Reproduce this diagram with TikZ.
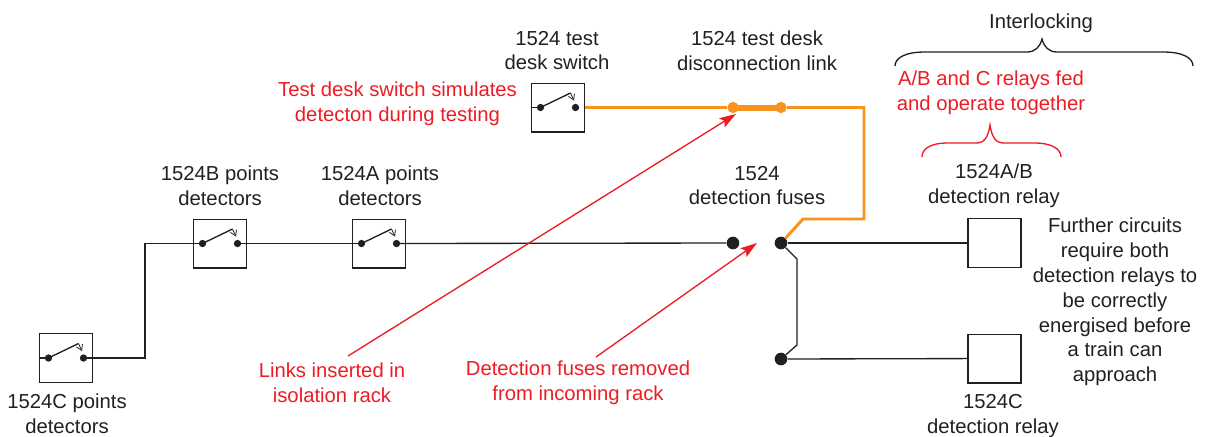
\documentclass[tikz,border=0pt]{standalone}
\usepackage{fontspec}
\setmainfont{Liberation Sans}
\usetikzlibrary{arrows.meta}
\definecolor{ink}{HTML}{231F20}
\definecolor{feedcol}{HTML}{F7941D}
\definecolor{notecol}{HTML}{ED1C24}
\tikzset{>/.tip={Stealth[length=12.5pt,width=8pt,inset=2.5pt]},
  lbl/.style={inner sep=0pt,align=center,text=ink,font=\fontsize{15.2}{18.6}\selectfont},
  note/.style={lbl,text=notecol},
  box/.style={draw=ink,line width=1pt,fill=white,minimum width=39.75pt,minimum height=36.5pt,inner sep=0pt},
  smalldot/.style={circle,fill=ink,inner sep=0pt,minimum size=5.5pt},
  bigdot/.style={circle,fill=ink,inner sep=0pt,minimum size=9.5pt},
  linkdot/.style={circle,fill=feedcol,inner sep=0pt,minimum size=8.5pt},
  wire/.style={draw=ink,line width=1pt},
  feed/.style={draw=feedcol,line width=2.2pt},
  linkbar/.style={draw=feedcol,line width=4.5pt},
  pointer/.style={draw=notecol,line width=1pt,->}}

\begin{document}
\begin{tikzpicture}[x=0.75pt,y=-0.75pt]
\useasboundingbox (0,0) rectangle (1206,436);

\foreach \n/\cx/\cy in {swC/66/358,swB/220/243.5,swA/379/243.5,swT/558/107.5}
{
  \node[box] (\n) at (\cx,\cy) {};
  \node[smalldot] (\n-l) at (\cx-17.5,\cy) {};
  \node[smalldot] (\n-r) at (\cx+17.5,\cy) {};
  \coordinate (\n-t) at (\cx+12.5,\cy-14.5);
  \coordinate (\n-a) at (\cx+16,\cy-7);
  \draw[wire] (\n.west) to (\n-l.center);
  \draw[wire] (\n-l.center) to (\n-t);
  \draw[draw=ink,line width=.6pt,-{Straight Barb[length=4pt,width=5pt]}] (\n-t) to (\n-a);
}

\node[box] (relayAB) at (994.5,243) {};
\node[box] (relayC) at (994.5,358.5) {};

\node[bigdot] (fuseL) at (733,243) {};
\node[bigdot] (fuseR) at (781,243) {};
\node[bigdot] (fuseC) at (781,359) {};
\node[linkdot] (linkL) at (733,107.5) {};
\node[linkdot] (linkR) at (781,107.5) {};

\coordinate (bendA) at (145,358);
\coordinate (bendB) at (145,243.5);
\coordinate (bendC) at (797,259);
\coordinate (bendD) at (797,345);
\coordinate (bendE) at (864,107.5);
\coordinate (bendF) at (864,219);
\coordinate (bendG) at (803,219);

\draw[wire] (swC-r.center) -- (bendA) -- (bendB) -- (swB-l.center);
\draw[wire] (swB-r.center) to (swA-l.center);
\draw[wire] (swA-r.center) to (fuseL);
\draw[wire] (fuseR) to (relayAB);
\draw[wire] (fuseC) to (relayC);
\draw[wire] (fuseR) -- (bendC) -- (bendD) -- (fuseC);

\draw[feed] (swT.east) to (linkL);
\draw[linkbar] (linkL.center) to (linkR.center);
\draw[feed,line join=miter] (linkR) -- (bendE) -- (bendF) -- (bendG) -- (fuseR);

\node[lbl] (lblT) at (557,50.5) {1524 test\\desk switch};
\node[lbl] (lblK) at (757,50.5) {1524 test desk\\disconnection link};
\node[lbl] (lblB) at (220,185.5) {1524B points\\detectors};
\node[lbl] (lblA) at (380,185.5) {1524A points\\detectors};
\node[lbl] (lblC) at (67,414) {1524C points\\detectors};
\node[lbl] (lblF) at (757,185.5) {1524\\detection fuses};
\node[lbl] (lblR) at (994,186) {1524A/B\\detection relay};
\node[lbl] (lblS) at (993,416) {1524C\\detection relay};
\node[lbl] (lblI) at (1041,23) {Interlocking};
\node[lbl] (lblX) at (1115,302) {Further circuits\\require both\\detection relays to\\be correctly\\energised before\\a train can\\approach};

\node[note] (noteT) at (397.5,104) {Test desk switch simulates\\detecton during testing};
\node[note] (noteR) at (991,93) {A/B and C relays fed\\and operate together};
\node[note] (noteL) at (332,383) {Links inserted in\\isolation rack};
\node[note] (noteF) at (578,383) {Detection fuses removed\\from incoming rack};

\coordinate (startL) at (348,356);
\coordinate (tipL) at (736,114);
\coordinate (startF) at (596,357);
\coordinate (tipF) at (757,243);
\draw[pointer] (startL) to (tipL);
\draw[pointer] (startF) to (tipF);

\draw[draw=ink,line width=1pt] (895,66) .. controls (895,58) and (905,52) .. (925,52) -- (1027,52)
  .. controls (1035,52) and (1040,47) .. (1042,39) .. controls (1044,47) and (1049,52) .. (1057,52)
  -- (1163,52) .. controls (1183,52) and (1193,58) .. (1193,66);
\draw[draw=notecol,line width=1pt] (922,157) .. controls (922,149) and (930,143) .. (948,143) -- (976,143)
  .. controls (984,143) and (988,138) .. (990,125) .. controls (992,138) and (996,143) .. (1004,143)
  -- (1034,143) .. controls (1052,143) and (1061,149) .. (1061,157);
\end{tikzpicture}
\end{document}
